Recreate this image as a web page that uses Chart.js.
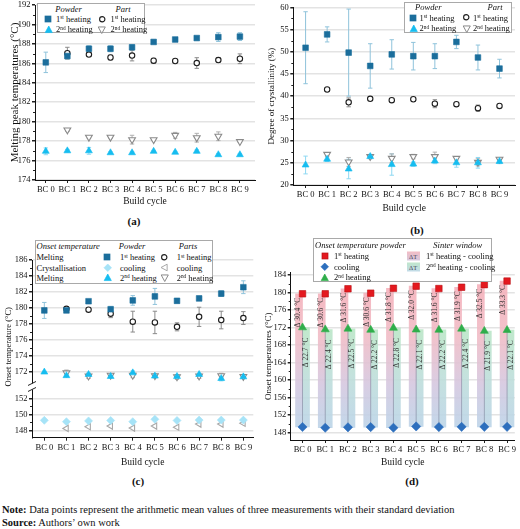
<!DOCTYPE html>
<html><head><meta charset="utf-8">
<script src="https://cdn.jsdelivr.net/npm/chart.js@4.4.1/dist/chart.umd.min.js"></script>
<style>
html,body{margin:0;padding:0;background:#fff;}
body{width:520px;height:529px;position:relative;overflow:hidden;font-family:"Liberation Serif","Times New Roman",serif;color:#111;}
canvas{position:absolute;}
.pl{position:absolute;font-weight:bold;font-size:11px;transform:translate(-50%,-50%);line-height:1;}
.box{position:absolute;background:#fff;border:1px solid #a9a9a9;box-sizing:border-box;}
.t{position:absolute;white-space:nowrap;font-size:8.5px;line-height:1;transform:translate(0,-50%);}
.tc{position:absolute;white-space:nowrap;font-size:8.5px;line-height:1;transform:translate(-50%,-50%);font-style:italic;}
sup{font-size:0.62em;vertical-align:0;position:relative;top:-0.5em;line-height:0;}
.mk{position:absolute;}
.sw{position:absolute;width:13px;height:9px;font-size:6.5px;line-height:9px;text-align:center;color:#445;transform:translate(0,-50%);}
.cap{position:absolute;left:2px;font-size:10.5px;white-space:nowrap;line-height:1;transform:translate(0,-50%);}
</style></head>
<body>
<canvas id="ca" width="260" height="212" style="left:0;top:0"></canvas>
<canvas id="cb" width="260" height="218" style="left:260px;top:0"></canvas>
<canvas id="cc" width="260" height="220" style="left:0;top:250px"></canvas>
<canvas id="cd" width="260" height="220" style="left:260px;top:250px"></canvas>
<div class="pl" style="left:134px;top:221px">(a)</div>
<div class="pl" style="left:417px;top:230px">(b)</div>
<div class="pl" style="left:138px;top:481px">(c)</div>
<div class="pl" style="left:412px;top:481px">(d)</div>
<div class="cap" style="top:510px"><b>Note:</b> Data points represent the arithmetic mean values of three measurements with their standard deviation</div>
<div class="cap" style="top:523px"><b>Source:</b> Authors’ own work</div>
<div id="leg"></div>
<script>
// ---------- data ----------
const categories = ['BC 0','BC 1','BC 2','BC 3','BC 4','BC 5','BC 6','BC 7','BC 8','BC 9'];

// (a) melting peak temperatures (°C)
const aTicks = [174,176,178,180,182,184,186,188,190,192];
const aPowder1 = [186.1, 186.75, 187.5, 187.5, 187.65, 188.2, 188.45, 188.6, 188.7, 188.75];
const aPowder1Err = [1.05, 0.3, 0.3, 0.3, 0.25, 0.15, 0.1, 0.15, 0.45, 0.4];
const aPart1 = [null, 187.05, 186.9, 186.6, 186.8, 186.27, 186.24, 186.03, 186.34, 186.47];
const aPart1Err = [0, 0.6, 0.2, 0.25, 0.55, 0.25, 0.1, 0.55, 0.25, 0.5];
const aPowder2 = [176.95, 177.0, 177.0, 176.8, 176.8, 176.95, 176.85, 176.95, 176.6, 176.6];
const aPowder2Err = [0.35, 0.15, 0.35, 0.1, 0.1, 0.1, 0.1, 0.15, 0.1, 0.1];
const aPart2 = [null, 179.15, 178.4, 178.4, 178.15, 178.15, 178.6, 178.35, 178.5, 177.95];
const aPart2Err = [0, 0.15, 0.1, 0.1, 0.45, 0.1, 0.3, 0.45, 0.45, 0.1];

// (b) degree of crystallinity (%)
const bTicks = [20,25,30,35,40,45,50,55,60];
const bPowder1 = [50.9, 53.9, 49.8, 46.8, 49.4, 49.0, 49.0, 52.2, 48.7, 46.2];
const bPowder1Err = [8.1, 1.7, 9.8, 5.0, 3.3, 3.1, 2.8, 1.5, 2.8, 2.1];
const bPart1 = [null, 41.5, 38.6, 39.4, 39.1, 39.3, 38.3, 38.2, 37.3, 37.8];
const bPart1Err = [0, 0.3, 1.0, 0.3, 0.3, 0.3, 0.9, 0.3, 0.7, 0.3];
const bPowder2 = [24.5, 25.8, 23.6, 26.4, 24.6, 24.7, 25.4, 25.0, 25.0, 25.3];
const bPowder2Err = [2.0, 0.5, 2.2, 0.5, 2.4, 0.5, 0.6, 1.0, 1.2, 0.5];
const bPart2 = [null, 26.9, 25.2, 26.4, 26.0, 26.4, 26.4, 26.0, 25.1, 25.8];
const bPart2Err = [0, 0.4, 1.0, 0.4, 1.0, 0.5, 1.0, 0.4, 0.8, 0.4];

// (c) onset temperatures (°C)
const cTicksUpper = [172,174,176,178,180,182,184,186];
const cTicksLower = [148,150,152];
const cPowder1 = [179.7, 179.7, 180.85, 179.85, 180.95, 181.45, 180.9, 181.2, 181.8, 182.6];
const cPowder1Err = [1.0, 0.15, 0.15, 0.35, 0.6, 1.0, 0.25, 0.15, 0.35, 0.8];
const cPart1 = [null, 179.9, 179.8, 179.3, 178.3, 178.2, 177.65, 178.9, 178.5, 178.75];
const cPart1Err = [0, 0.2, 0.15, 0.5, 1.3, 1.4, 0.5, 1.2, 1.1, 0.8];
const cPowder2 = [172.0, 171.55, 171.7, 171.45, 171.9, 171.5, 171.45, 171.7, 171.2, 171.4];
const cPowder2Err = [0.1, 0.1, 0.2, 0.1, 0.25, 0.2, 0.1, 0.15, 0.3, 0.1];
const cPart2 = [null, 171.9, 171.5, 171.6, 171.6, 171.55, 171.4, 171.5, 171.55, 171.45];
const cPart2Err = [0, 0.35, 0.3, 0.2, 0.3, 0.2, 0.3, 0.3, 0.3, 0.25];
const cPowderCool = [149.27, 149.1, 149.2, 149.25, 149.1, 149.4, 149.25, 149.3, 149.3, 149.3];
const cPartCool = [null, 148.26, 148.47, 148.55, 148.3, 148.55, 148.4, 148.8, 148.8, 148.9];

// (d) sinter window
const dTicks = [148,152,156,160,164,168,172,176,180,184];
const dDelta1 = ['30.4','30.6','31.6','30.6','31.8','32.0','31.6','31.9','32.5','33.3'];
const dDelta2 = ['22.7','22.4','22.5','22.2','22.8','22.1','22.2','22.4','21.9','22.1'];

// ---------- colours ----------
const C_SQ = '#1b6e9c', C_SQ_E = '#8fc3db';
const C_TRI = '#16bdf0', C_TRI_E = '#8ed8f2';
const C_CIR = '#1e1e1e', C_CIR_E = '#8a8a8a';
const C_DN = '#8a8a8a', C_DN_E = '#b0b0b0';
const C_DIA = '#a6e3f7', C_LEFT = '#a8a8a8';
const C_RED = '#e4191f', C_BLUE = '#2d6fbd', C_GREEN = '#2fae4b';

const SERIF = '"Liberation Serif", "Times New Roman", serif';
const idx = categories.map((_, i) => i);
const pts = arr => arr.map((v, i) => ({x: i, y: v}));

// ---------- helpers ----------
function xScale(min, max, h, pb) {
  return {
    type: 'linear', min, max, offset: false, beginAtZero: false,
    afterBuildTicks: s => { s.ticks = idx.map(v => ({value: v})); },
    afterFit: s => { s.height = h; s.paddingLeft = 0; s.paddingRight = 0; },
    ticks: {callback: v => categories[v], font: {family: SERIF, size: 8.5}, color: '#111', padding: 2, maxRotation: 0, autoSkip: false},
    grid: {display: true, drawOnChartArea: false, drawTicks: true, tickLength: 3, tickColor: '#222', offset: false},
    border: {display: true, color: '#111', width: 1},
    title: {display: true, text: 'Build cycle', font: {family: SERIF, size: 9.5}, color: '#111', padding: {top: 0, bottom: pb}}
  };
}
function yScale(min, max, ticks, w, title, tsize, tpad, extra, align) {
  return Object.assign({
    type: 'linear', min, max, position: 'left', beginAtZero: false, offset: false,
    afterBuildTicks: s => { s.ticks = ticks.map(v => ({value: v})); },
    afterFit: s => { s.width = w; s.paddingTop = 0; s.paddingBottom = 0; },
    ticks: {font: {family: SERIF, size: 8.5}, color: '#111', padding: 1.5, autoSkip: false},
    grid: {color: '#e3e3e3', lineWidth: 1.5, tickLength: 3, tickColor: '#222', drawTicks: true},
    border: {display: true, color: '#111', width: 1},
    title: title ? {display: true, text: title, align: align || 'center', font: {family: SERIF, size: tsize}, color: '#111', padding: {top: tpad, bottom: 0}} : {display: false}
  }, extra || {});
}
function ds(data, style, color, fill, r, errs, errColor, axis, rot) {
  return {type: 'scatter', data: pts(data), pointStyle: style, pointRadius: r, pointHoverRadius: r,
    pointRotation: rot || 0, backgroundColor: fill, borderColor: color, pointBackgroundColor: fill,
    pointBorderColor: color, borderWidth: fill === '#fff' ? 1.1 : 0.6, pointBorderWidth: fill === '#fff' ? 1.1 : 0.6,
    errors: errs, errColor: errColor, yAxisID: axis || 'y', order: 0};
}

const errPlugin = {
  id: 'err',
  beforeDatasetsDraw(chart) {
    const ctx = chart.ctx;
    chart.data.datasets.forEach((d, di) => {
      if (!d.errors) return;
      const meta = chart.getDatasetMeta(di);
      const ys = chart.scales[meta.yAxisID];
      ctx.save(); ctx.strokeStyle = d.errColor; ctx.lineWidth = 1;
      meta.data.forEach((el, i) => {
        const v = d.data[i].y, e = d.errors[i];
        if (v == null || !e) return;
        const x = el.x, y1 = ys.getPixelForValue(v + e), y2 = ys.getPixelForValue(v - e);
        ctx.beginPath();
        ctx.moveTo(x, y1); ctx.lineTo(x, y2);
        ctx.moveTo(x - 2.2, y1); ctx.lineTo(x + 2.2, y1);
        ctx.moveTo(x - 2.2, y2); ctx.lineTo(x + 2.2, y2);
        ctx.stroke();
      });
      ctx.restore();
    });
  }
};
const minorPlugin = {
  id: 'minor',
  afterDraw(chart) {
    const ctx = chart.ctx;
    ctx.save(); ctx.strokeStyle = '#222'; ctx.lineWidth = 1;
    Object.values(chart.scales).forEach(s => {
      if (s.axis !== 'y') return;
      const t = s.ticks;
      for (let i = 0; i < t.length - 1; i++) {
        const p = Math.round(s.getPixelForValue((t[i].value + t[i + 1].value) / 2)) + 0.5;
        ctx.beginPath(); ctx.moveTo(s.right - 2, p); ctx.lineTo(s.right, p); ctx.stroke();
      }
    });
    ctx.restore();
  }
};
const common = (padding) => ({
  responsive: false, animation: false, devicePixelRatio: 1,
  layout: {padding},
  plugins: {legend: {display: false}, tooltip: {enabled: false}},
  events: []
});

// ---------- (a) ----------
new Chart(document.getElementById('ca'), {
  type: 'scatter',
  data: {datasets: [
    ds(aPowder1, 'rect', C_SQ, C_SQ, 4, aPowder1Err, C_SQ_E),
    ds(aPart1, 'circle', C_CIR, '#fff', 2.7, aPart1Err, C_CIR_E),
    ds(aPowder2, 'triangle', C_TRI, C_TRI, 4, aPowder2Err, C_TRI_E),
    ds(aPart2, 'triangle', C_DN, '#fff', 3.9, aPart2Err, C_DN_E, 'y', 180)
  ]},
  options: Object.assign(common({top: 1, right: 3, bottom: 0, left: 0}), {
    scales: {
      x: xScale(-0.5, 9.7, 32, 4.6),
      y: yScale(174, 192, aTicks, 35, 'Melting peak temperatures (°C)', 11, 8.4)
    }
  }),
  plugins: [errPlugin, minorPlugin]
});

// ---------- (b) ----------
new Chart(document.getElementById('cb'), {
  type: 'scatter',
  data: {datasets: [
    ds(bPowder1, 'rect', C_SQ, C_SQ, 4, bPowder1Err, C_SQ_E),
    ds(bPart1, 'circle', C_CIR, '#fff', 2.7, bPart1Err, C_CIR_E),
    ds(bPowder2, 'triangle', C_TRI, C_TRI, 4, bPowder2Err, C_TRI_E),
    ds(bPart2, 'triangle', C_DN, '#fff', 3.9, bPart2Err, C_DN_E, 'y', 180)
  ]},
  options: Object.assign(common({top: 7.3, right: 3.3, bottom: 0, left: 0}), {
    scales: {
      x: xScale(-0.57, 9.72, 33, 4.3),
      y: yScale(20, 60, bTicks, 33.3, 'Degree of crystallinity (%)', 9, 6.3)
    }
  }),
  plugins: [errPlugin, minorPlugin]
});

// ---------- (c) ----------
const breakPlugin = {
  id: 'brk',
  afterDraw(chart) {
    const ctx = chart.ctx, b = chart.scales.yUp.bottom, x = chart.chartArea.left;
    ctx.save();
    ctx.fillStyle = '#fff'; ctx.fillRect(x - 4, b - 3, 8, 6);
    ctx.strokeStyle = '#222'; ctx.lineWidth = 1;
    ctx.beginPath();
    ctx.moveTo(x - 4, b - 1); ctx.lineTo(x + 4, b - 5);
    ctx.moveTo(x - 4, b + 5); ctx.lineTo(x + 4, b + 1);
    ctx.stroke();
    ctx.restore();
  }
};
new Chart(document.getElementById('cc'), {
  type: 'scatter',
  data: {datasets: [
    ds(cPowder1, 'rect', C_SQ, C_SQ, 4, cPowder1Err, C_SQ_E, 'yUp'),
    ds(cPart1, 'circle', C_CIR, '#fff', 2.7, cPart1Err, C_CIR_E, 'yUp'),
    ds(cPowder2, 'triangle', C_TRI, C_TRI, 4, cPowder2Err, C_TRI_E, 'yUp'),
    ds(cPart2, 'triangle', C_DN, '#fff', 3.9, cPart2Err, C_DN_E, 'yUp', 180),
    ds(cPowderCool, 'rectRot', C_DIA, C_DIA, 4, null, null, 'yLow'),
    ds(cPartCool, 'triangle', C_LEFT, '#fff', 3.6, null, null, 'yLow', 270)
  ]},
  options: Object.assign(common({top: 10, right: 6.7, bottom: 0, left: 0}), {
    scales: {
      x: xScale(-0.557, 9.45, 32.3, 1.6),
      yLow: yScale(147.1, 153.5, cTicksLower, 32, null, 0, 0, {stack: 'c', stackWeight: 6.4}),
      yUp: yScale(170.2, 186, cTicksUpper, 32, 'Onset temperature (°C)', 8.5, 3.2,
        {stack: 'c', stackWeight: 15.8}, 'start')
    }
  }),
  plugins: [errPlugin, minorPlugin, breakPlugin]
});

// ---------- (d) ----------
function barGrad(topVal, stops) {
  return c => {
    const ch = c.chart;
    if (!ch.chartArea) return stops[0][1];
    const y = ch.scales.y;
    const g = ch.ctx.createLinearGradient(0, y.getPixelForValue(topVal), 0, y.getPixelForValue(149));
    stops.forEach(s => g.addColorStop(s[0], s[1]));
    return g;
  };
}
const annotPlugin = {
  id: 'annot',
  afterDatasetDraw(chart, args) {
    const d = chart.data.datasets[args.index];
    if (d.id !== 'pink') return;
    const ctx = chart.ctx, y = chart.scales.y;
    const pinkMeta = chart.getDatasetMeta(args.index);
    const greenIdx = chart.data.datasets.findIndex(q => q.id === 'green');
    const greenMeta = chart.getDatasetMeta(greenIdx);
    ctx.save();
    ctx.strokeStyle = 'rgba(120,130,150,0.55)'; ctx.lineWidth = 1;
    idx.forEach(i => {
      const x = (pinkMeta.data[i].x + greenMeta.data[i].x) / 2;
      ctx.beginPath();
      ctx.moveTo(x, y.getPixelForValue(cPowderCool[i]));
      ctx.lineTo(x, y.getPixelForValue(cPowder2[i]));
      ctx.stroke();
    });
    ctx.fillStyle = '#333';
    ctx.font = '7.5px ' + SERIF;
    ctx.textAlign = 'right'; ctx.textBaseline = 'middle';
    idx.forEach(i => {
      const p = pinkMeta.data[i], g = greenMeta.data[i];
      ctx.save(); ctx.translate(p.x - 0.5, p.y + 4); ctx.rotate(-Math.PI / 2);
      ctx.fillText('Δ ' + dDelta1[i] + ' °C', 0, 0); ctx.restore();
      ctx.save(); ctx.translate(g.x + 0.5, g.y + 10); ctx.rotate(-Math.PI / 2);
      ctx.fillText('Δ ' + dDelta2[i] + ' °C', 0, 0); ctx.restore();
    });
    ctx.restore();
  }
};
new Chart(document.getElementById('cd'), {
  type: 'scatter',
  data: {datasets: [
    {type: 'bar', id: 'pink', data: idx.map(i => ({x: i, y: [cPowderCool[i], cPowder1[i]]})),
     barThickness: 7, order: 10, borderWidth: 0,
     backgroundColor: barGrad(181, [[0, 'rgba(244,176,186,0.9)'], [0.35, 'rgba(240,188,198,0.9)'], [0.7, 'rgba(212,200,224,0.9)'], [1, 'rgba(188,212,232,0.9)']])},
    {type: 'bar', id: 'green', data: idx.map(i => ({x: i, y: [cPowderCool[i], cPowder2[i]]})),
     barThickness: 7, order: 10, borderWidth: 0,
     backgroundColor: barGrad(172, [[0, 'rgba(186,230,198,0.9)'], [0.5, 'rgba(190,222,218,0.9)'], [1, 'rgba(188,212,232,0.9)']])},
    ds(cPowder1, 'rect', '#b81014', C_RED, 4.6),
    ds(cPowderCool, 'rectRot', C_BLUE, C_BLUE, 4.6),
    ds(cPowder2, 'triangle', C_GREEN, C_GREEN, 4.6)
  ]},
  options: Object.assign(common({top: 22.5, right: 3, bottom: 0, left: 0}), {
    scales: {
      x: xScale(-0.52, 9.34, 30, 1.6),
      y: yScale(146.3, 184.57, dTicks, 30.7, 'Onset temperatures (°C)', 9, 2.9)
    }
  }),
  plugins: [minorPlugin, annotPlugin]
});

// ---------- legends (HTML) ----------
function mk(shape, fill, stroke, size, cx, cy, sw) {
  const W = size + 2, c = W / 2, r = size / 2;
  let inner = '';
  const st = `fill="${fill}" stroke="${stroke}" stroke-width="${sw || 0.7}"`;
  if (shape === 'sq') inner = `<rect x="${c - r}" y="${c - r}" width="${size}" height="${size}" ${st}/>`;
  else if (shape === 'circ') inner = `<circle cx="${c}" cy="${c}" r="${r - 0.6}" ${st}/>`;
  else if (shape === 'up') inner = `<polygon points="${c},${c - r} ${c + r * 0.95},${c + r * 0.75} ${c - r * 0.95},${c + r * 0.75}" ${st}/>`;
  else if (shape === 'down') inner = `<polygon points="${c},${c + r} ${c + r * 0.95},${c - r * 0.75} ${c - r * 0.95},${c - r * 0.75}" ${st}/>`;
  else if (shape === 'left') inner = `<polygon points="${c - r},${c} ${c + r * 0.75},${c - r * 0.95} ${c + r * 0.75},${c + r * 0.95}" ${st}/>`;
  else if (shape === 'dia') inner = `<polygon points="${c},${c - r} ${c + r},${c} ${c},${c + r} ${c - r},${c}" ${st}/>`;
  return `<svg class="mk" width="${W}" height="${W}" style="left:${cx - c}px;top:${cy - c}px">${inner}</svg>`;
}
const T = (x, y, html, cls) => `<div class="${cls || 't'}" style="left:${x}px;top:${y}px">${html}</div>`;
const box = (l, t, w, h) => `<div class="box" style="left:${l}px;top:${t}px;width:${w}px;height:${h}px"></div>`;
const H1 = '1<sup>st</sup> heating', H2 = '2<sup>nd</sup> heating';
let L = '';
// (a)
L += box(37, 2.7, 108, 30.6);
L += T(68.5, 8.5, 'Powder', 'tc') + T(123, 8.5, 'Part', 'tc');
L += mk('sq', C_SQ, C_SQ, 6, 48.3, 19) + T(56, 19, H1) + mk('circ', '#fff', C_CIR, 6.5, 102, 19, 1.1) + T(110.5, 19, H1);
L += mk('up', C_TRI, C_TRI, 7.5, 48.3, 29.3) + T(56, 29.3, H2) + mk('down', '#fff', C_DN, 7.5, 102, 29.3, 1) + T(110.5, 29.3, H2);
// (b)
L += box(404, 1.7, 107.7, 31.3);
L += T(428.3, 7, 'Powder', 'tc') + T(495, 7, 'Part', 'tc');
L += mk('sq', C_SQ, C_SQ, 6, 413.3, 17.5) + T(419.5, 17.5, H1) + mk('circ', '#fff', C_CIR, 6.5, 466.7, 17.5, 1.1) + T(473, 17.5, H1);
L += mk('up', C_TRI, C_TRI, 7.5, 413.3, 28.3) + T(419.5, 28.3, H2) + mk('down', '#fff', C_DN, 7.5, 466.7, 28.3, 1) + T(473, 28.3, H2);
// (c)
L += box(35, 240, 178, 43.5);
L += T(36.5, 246, '<i>Onset temperature</i>') + T(132, 246, 'Powder', 'tc') + T(188, 246, 'Parts', 'tc');
L += T(36.5, 257.3, 'Melting') + T(36.5, 267.5, 'Crystallisation') + T(36.5, 277.7, 'Melting');
L += mk('sq', C_SQ, C_SQ, 6, 107.3, 257.3) + T(120, 257.3, H1) + mk('circ', '#fff', C_CIR, 6.5, 164.3, 257.3, 1.1) + T(176.7, 257.3, H1);
L += mk('dia', C_DIA, C_DIA, 7.5, 107.3, 267.5) + T(120, 267.5, 'cooling') + mk('left', '#fff', C_LEFT, 7, 164.3, 267.5, 1) + T(176.7, 267.5, 'cooling');
L += mk('up', C_TRI, C_TRI, 7.5, 107.3, 277.7) + T(120, 277.7, H2) + mk('down', '#fff', C_DN, 7.5, 164.3, 277.7, 1) + T(176.7, 277.7, H2);
// (d)
L += box(313.3, 238.3, 178.4, 43.5);
L += T(315, 245, '<i>Onset temperature powder</i>') + T(433.3, 245, '<i>Sinter window</i>');
L += mk('sq', C_RED, '#b81014', 6, 325, 256) + T(334, 256, H1);
L += mk('dia', C_BLUE, C_BLUE, 7.5, 325, 266.7) + T(334, 266.7, 'cooling');
L += mk('up', C_GREEN, C_GREEN, 7.5, 325, 277.3) + T(334, 277.3, H2);
L += `<div class="sw" style="left:406.7px;top:256px;background:linear-gradient(#f3bcc4,#d6c8de)">ΔT</div>` + T(426, 256, '1<sup>st</sup> heating - cooling');
L += `<div class="sw" style="left:406.7px;top:266.7px;background:linear-gradient(#bfe6cb,#c2dbe8)">ΔT</div>` + T(426, 266.7, '2<sup>nd</sup> heating - cooling');
document.getElementById('leg').innerHTML = L;
</script>
</body></html>
